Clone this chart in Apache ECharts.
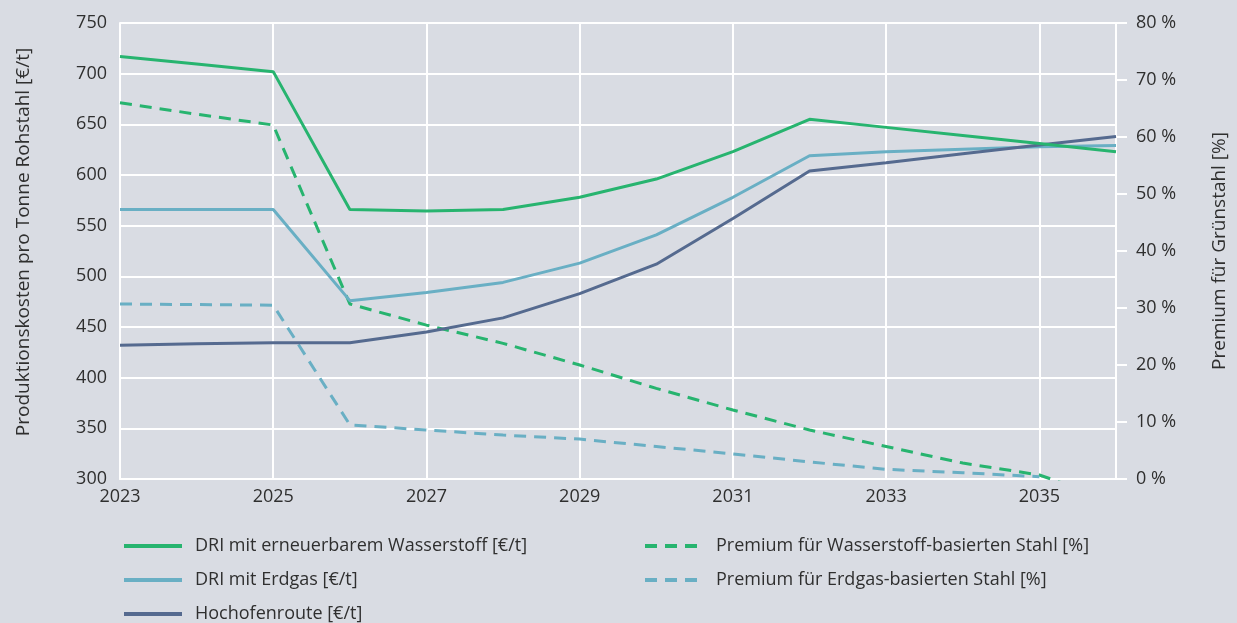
<!DOCTYPE html>
<html>
<head>
<meta charset="utf-8">
<script src="https://cdn.jsdelivr.net/npm/echarts@6/dist/echarts.min.js"></script>
<style>
  html, body { margin: 0; padding: 0; background: #d9dce3; }
  #chart { width: 1237px; height: 623px; }
</style>
</head>
<body>
<div id="chart"></div>
<script>
  // Jahre (x-Achse)
  const years = ['2023', '2024', '2025', '2026', '2027', '2028', '2029', '2030', '2031', '2032', '2033', '2034', '2035', '2036'];

  // Produktionskosten [€/t]
  const driH2 = [717, 709.5, 702, 566, 564.5, 566, 578, 596, 623, 655, 647, 639, 631, 623];
  const driNg = [566, 566, 566, 476, 484, 494, 513, 541, 578, 619, 623, 625.5, 628, 629];
  const hochofen = [432, 433.5, 434.5, 434.5, 445, 459, 483, 512, 557, 604, 612, 621, 629.5, 638];

  // Premium für Grünstahl [%]
  const premH2 = [66, 64, 62.1, 30.7, 27, 23.8, 20, 15.9, 12.1, 8.6, 5.7, 2.8, 0.7, -4];
  const premNg = [30.7, 30.6, 30.5, 9.5, 8.6, 7.7, 7, 5.7, 4.4, 3, 1.7, 1.1, 0.4, null];

  const seriesNames = [
    'DRI mit erneuerbarem Wasserstoff [€/t]',
    'DRI mit Erdgas [€/t]',
    'Hochofenroute [€/t]',
    'Premium für Wasserstoff-basierten Stahl [%]',
    'Premium für Erdgas-basierten Stahl [%]'
  ];

  const green = '#27b46f';
  const lightBlue = '#69afc4';
  const navy = '#556a8f';
  const textColor = '#2f2f2f';
  const font = 'Open Sans';

  const chart = echarts.init(document.getElementById('chart'));

  function line(name, data, color, yIndex, dashed) {
    return {
      name: name,
      type: 'line',
      yAxisIndex: yIndex,
      data: data,
      symbol: 'none',
      connectNulls: false,
      lineStyle: { color: color, width: 3, type: dashed ? [12, 8] : 'solid' },
      itemStyle: { color: color }
    };
  }

  // Legende in zwei Spalten
  function legend(left, names) {
    return {
      orient: 'vertical',
      left: left,
      top: 536,
      height: 100,
      padding: 0,
      itemWidth: 58,
      itemHeight: 14,
      itemGap: 14,
      itemStyle: { opacity: 0 },
      lineStyle: { width: 4 },
      textStyle: { color: textColor, fontFamily: font, fontSize: 18, lineHeight: 20, padding: [0, 0, 0, 8] },
      data: names
    };
  }

  const option = {
    backgroundColor: '#d9dce3',
    animation: false,
    grid: { left: 120, right: 121, top: 23, bottom: 144 },
    legend: [legend(122, seriesNames.slice(0, 3)), legend(643, seriesNames.slice(3))],
    xAxis: {
      type: 'category',
      data: years,
      boundaryGap: false,
      axisLine: { lineStyle: { color: '#ffffff', width: 2 } },
      axisTick: { show: false },
      axisLabel: { interval: 1, color: textColor, fontFamily: font, fontSize: 18, margin: 9 },
      splitLine: { show: true, interval: 1, lineStyle: { color: '#ffffff', width: 2 } }
    },
    yAxis: [{
      type: 'value',
      min: 300,
      max: 750,
      interval: 50,
      name: 'Produktionskosten pro Tonne Rohstahl [€/t]',
      nameLocation: 'middle',
      nameGap: 87,
      nameTextStyle: { color: textColor, fontFamily: font, fontSize: 19, padding: [0, 0, 0, 18] },
      axisLine: { show: true, lineStyle: { color: '#ffffff', width: 2 } },
      axisTick: { show: false },
      axisLabel: { color: textColor, fontFamily: font, fontSize: 18, margin: 13 },
      splitLine: { show: true, lineStyle: { color: '#ffffff', width: 2 } }
    }, {
      type: 'value',
      position: 'right',
      min: 0,
      max: 80,
      interval: 10,
      name: 'Premium für Grünstahl [%]',
      nameLocation: 'middle',
      nameGap: 94,
      nameTextStyle: { color: textColor, fontFamily: font, fontSize: 19 },
      axisLine: { show: true, lineStyle: { color: '#ffffff', width: 2 } },
      axisTick: { show: true, length: 11, lineStyle: { color: '#ffffff', width: 2 } },
      axisLabel: { color: textColor, fontFamily: font, fontSize: 18, margin: 20, formatter: '{value} %' },
      splitLine: { show: false }
    }],
    series: [
      line(seriesNames[3], premH2, green, 1, true),
      line(seriesNames[4], premNg, lightBlue, 1, true),
      line(seriesNames[1], driNg, lightBlue, 0, false),
      line(seriesNames[2], hochofen, navy, 0, false),
      line(seriesNames[0], driH2, green, 0, false)
    ]
  };

  chart.setOption(option);
</script>
</body>
</html>
